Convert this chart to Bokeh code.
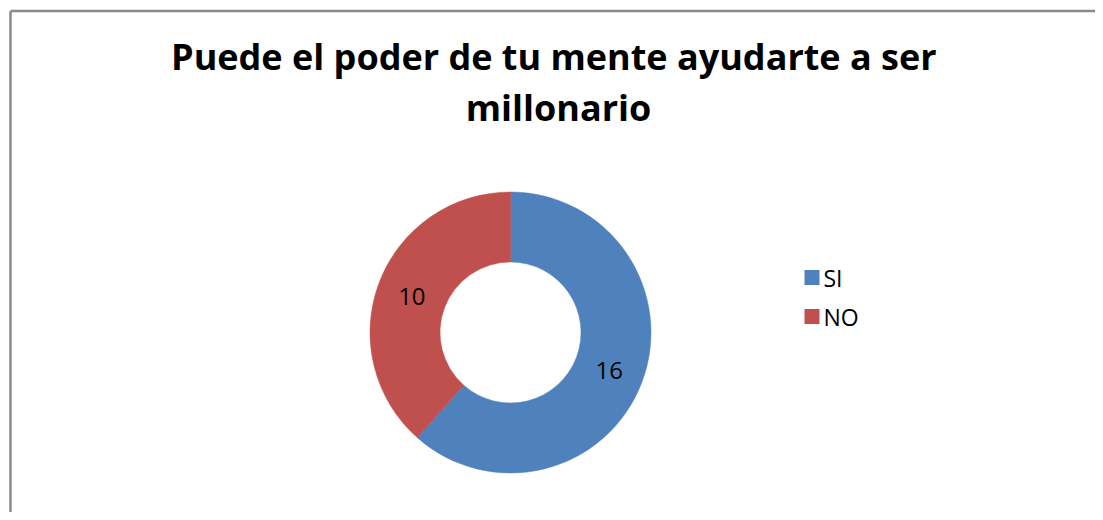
import math
from bokeh.plotting import figure
from bokeh.models import Range1d, Label, ColumnDataSource
from bokeh.core.properties import value
from bokeh.embed import file_html
from bokeh.resources import INLINE

# ---- data ----
title_lines = ["Puede el poder de tu mente ayudarte  a ser", "millonario"]
categories = ["SI", "NO"]
counts = [16, 10]
colors = ["#4F81BD", "#C0504D"]

# ---- layout (pixel-aligned data space) ----
W, H = 1095, 512


def px(x):
    return x


def py(y):
    return H - y


p = figure(width=W, height=H, x_range=Range1d(0, W), y_range=Range1d(0, H),
           output_backend="svg", toolbar_location=None,
           x_axis_type=None, y_axis_type=None, min_border=0)
p.grid.visible = False
p.outline_line_color = None
p.background_fill_color = "white"
p.border_fill_color = "white"

# chart frame (top and left edges visible; rest is cropped)
p.segment(x0=[px(10), px(10)], y0=[py(10.5), py(10.5)],
          x1=[px(1120), px(10)], y1=[py(10.5), py(540)],
          line_color="#8a8a8a", line_width=2.5)

# title
font = "Open Sans"
for line, base in zip(title_lines, [56, 107]):
    p.add_layout(Label(x=px(558), y=py(base), text=line, text_align="center",
                       text_baseline="alphabetic", text_font=font,
                       text_font_style="bold", text_font_size="36px",
                       text_color="#000000"))

# donut
cx, cy = px(510), py(332)
r_out, r_in = 140.5, 70.5
total = sum(counts)
starts, ends, mids = [], [], []
a = 90.0
for c in counts:
    span = c / total * 360.0
    starts.append(math.radians(a))
    ends.append(math.radians(a - span))
    mids.append(math.radians(a - span / 2))
    a -= span

src = ColumnDataSource(dict(start=starts, end=ends, color=colors,
                            cat=categories, val=counts))
p.annular_wedge(x=cx, y=cy, inner_radius=r_in, outer_radius=r_out,
                start_angle="start", end_angle="end", direction="clock",
                fill_color="color", line_color="color", line_width=0.5,
                source=src)

# data labels
r_lab = (r_in + r_out) / 2
lab_src = ColumnDataSource(dict(
    x=[cx + r_lab * math.cos(m) for m in mids],
    y=[cy + r_lab * math.sin(m) - 1 for m in mids],
    t=[str(v) for v in counts]))
p.text(x="x", y="y", text="t", source=lab_src, text_align="center",
       text_baseline="middle", text_font=value(font), text_font_size="24px",
       text_color="#000000")

# legend
leg_x = px(811.5)
leg_y = [py(277), py(316)]
p.rect(x=[leg_x] * len(categories), y=leg_y, width=15, height=15,
       fill_color=colors, line_color=None)
leg_src = ColumnDataSource(dict(x=[px(823)] * len(categories), y=leg_y, t=categories))
p.text(x="x", y="y", text="t", source=leg_src, text_align="left",
       text_baseline="middle", text_font=value(font), text_font_size="23px",
       text_color="#000000")

open("out.html", "w").write(file_html(p, INLINE))
